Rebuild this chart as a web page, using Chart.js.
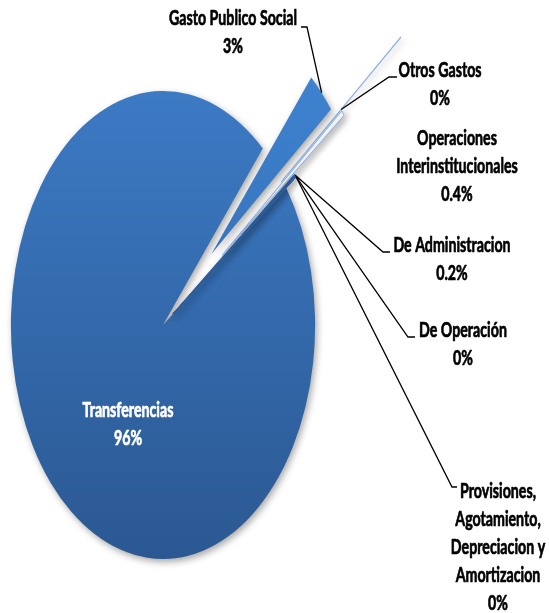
<!DOCTYPE html>
<html>
<head>
<meta charset="utf-8">
<script src="https://cdn.jsdelivr.net/npm/chart.js@4/dist/chart.umd.min.js"></script>
<style>
    html, body { margin: 0; padding: 0; background: #ffffff; }
</style>
</head>
<body>
<canvas id="chart-gasto" width="549" height="613"></canvas>
<script>
//------------------------------------------------ DATOS ------------------------------------------------
var categorias = ['Transferencias', 'Gasto Publico Social', 'Otros Gastos', 'Operaciones Interinstitucionales',
    'De Administracion', 'De Operación', 'Provisiones, Agotamiento, Depreciacion y Amortizacion'];
var valores = [96.35, 3.0, 0.01, 0.4, 0.2, 0.02, 0.02];
// texto de cada etiqueta, partido en lineas como en el original
var etiquetas = [
    ['Transferencias'],
    ['Gasto Publico Social'],
    ['Otros Gastos'],
    ['Operaciones', 'Interinstitucionales'],
    ['De Administracion'],
    ['De Operación'],
    ['Provisiones,', 'Agotamiento,', 'Depreciacion y', 'Amortizacion']
];

//------------------------------------------------ ESTILO ------------------------------------------------
var escalaX = 0.65;        // el pastel esta estirado en vertical
var radio = 234;
var explode = [0, 0.44, 0.99, 0.49, 0.08, 0.08, 0.08];
var colorArriba = ['#3c7ac4', '#4087d6', '#8fb0e2', '#ffffff', '#2f60a2', '#2f60a2', '#2f60a2'];
var colorAbajo = ['#2b5892', '#2f62a4', '#8fb0e2', '#ffffff', '#2b5893', '#2b5893', '#2b5893'];
var bordeColor = ['#ffffff', '#ffffff', '#8fb0e2', '#8fb0e2', '#2b5c9c', '#2b5c9c', '#2b5c9c'];
var bordeAncho = [0, 0, 1.4, 1.2, 1, 1, 1];

// posicion de etiquetas: centro x, primera linea base
var posEtiqueta = [[128, 417], [233, 25], [440, 77], [457, 145], [452, 252], [463, 337], [498, 498]];
var colorTexto = ['#ffffff', '#000000', '#000000', '#000000', '#000000', '#000000', '#000000'];
var interlinea = 28;
// lineas guia: punto sobre la porcion (en radios) y dos codos
var anclaR = [null, 1.44, 1.49, null, 1.08, 1.08, 1.08];
var codos = [null, [[307, 27], [301, 27]], [[389, 77], [397, 77]], null,
    [[383, 252], [390, 252]], [[408, 337], [415, 337]], [[452, 487], [457, 487]]];

function porcentaje(i) {
    var total = valores.reduce(function (a, b) { return a + b; }, 0);
    var p = valores[i] / total * 100;
    if (p >= 1) return Math.round(p) + '%';
    var r = Math.round(p * 10) / 10;
    return (r === 0 ? '0' : r.toFixed(1)) + '%';
}

function gradiente(c) {
    var i = c.dataIndex;
    var chart = c.chart;
    var area = chart.chartArea;
    if (!area) return colorArriba[i];
    var cy = (area.top + area.bottom) / 2;
    var g = chart.ctx.createLinearGradient(0, cy - radio, 0, cy + radio);
    g.addColorStop(0, colorArriba[i]);
    g.addColorStop(1, colorAbajo[i]);
    return g;
}

//--------------------------------------- pastel estirado y separado ---------------------------------------
var pastelEstirado = {
    id: 'pastelEstirado',
    beforeDatasetDraw: function (chart, args) {
        var ctx = chart.ctx;
        var arcs = chart.getDatasetMeta(args.index).data;
        var cx = arcs[0].x, cy = arcs[0].y;
        ctx.save();
        ctx.translate(cx, cy);
        ctx.scale(escalaX, 1);
        ctx.translate(-cx, -cy);
        arcs.forEach(function (arc, i) {
            var mid = (arc.startAngle + arc.endAngle) / 2;
            var d = explode[i] * arc.outerRadius;
            ctx.save();
            ctx.translate(Math.cos(mid) * d, Math.sin(mid) * d);
            ctx.shadowColor = 'rgba(0, 0, 0, 0.35)';
            ctx.shadowBlur = 7;
            ctx.shadowOffsetX = 2;
            ctx.shadowOffsetY = 3;
            arc.draw(ctx);
            ctx.restore();
        });
        ctx.restore();
        return false;
    }
};

//--------------------------------------- etiquetas ---------------------------------------
var etiquetasPlugin = {
    id: 'etiquetasPlugin',
    afterDraw: function (chart) {
        var ctx = chart.ctx;
        var arcs = chart.getDatasetMeta(0).data;
        var cx = arcs[0].x, cy = arcs[0].y;

        // lineas guia
        ctx.save();
        ctx.strokeStyle = '#000000';
        ctx.lineWidth = 1.3;
        arcs.forEach(function (arc, i) {
            if (!codos[i]) return;
            var mid = (arc.startAngle + arc.endAngle) / 2;
            var r = anclaR[i] * arc.outerRadius;
            var ax = cx + Math.cos(mid) * r * escalaX;
            var ay = cy + Math.sin(mid) * r;
            ctx.beginPath();
            ctx.moveTo(ax, ay);
            ctx.lineTo(codos[i][0][0], codos[i][0][1]);
            ctx.lineTo(codos[i][1][0], codos[i][1][1]);
            ctx.stroke();
        });
        ctx.restore();

        // texto (letra condensada y gruesa como en el original)
        ctx.save();
        ctx.font = 'bold 20px Lato';
        var k = 128 / ctx.measureText('Gasto Publico Social').width;
        ctx.textAlign = 'center';
        ctx.textBaseline = 'alphabetic';
        ctx.lineJoin = 'round';
        etiquetas.forEach(function (lineas, i) {
            var todas = lineas.concat([porcentaje(i)]);
            ctx.fillStyle = colorTexto[i];
            ctx.strokeStyle = colorTexto[i];
            ctx.lineWidth = 0.7;
            todas.forEach(function (t, j) {
                ctx.save();
                ctx.translate(posEtiqueta[i][0], posEtiqueta[i][1] + j * interlinea);
                ctx.scale(k, 1);
                ctx.fillText(t, 0, 0);
                ctx.strokeText(t, 0, 0);
                ctx.restore();
            });
        });
        ctx.restore();
    }
};

var ctxGasto = document.getElementById('chart-gasto').getContext('2d');
var chart_gasto = new Chart(ctxGasto, {
    type: 'pie',
    data: {
        labels: categorias,
        datasets: [{
            data: valores,
            backgroundColor: gradiente,
            borderColor: bordeColor,
            borderWidth: bordeAncho
        }]
    },
    options: {
        responsive: false,
        devicePixelRatio: 1,
        animation: false,
        events: [],
        rotation: 54.14,
        radius: radio,
        layout: {
            padding: { left: 0, right: 223, top: 37, bottom: 0 }
        },
        plugins: {
            legend: { display: false },
            tooltip: { enabled: false }
        }
    },
    plugins: [pastelEstirado, etiquetasPlugin]
});
</script>
</body>
</html>
